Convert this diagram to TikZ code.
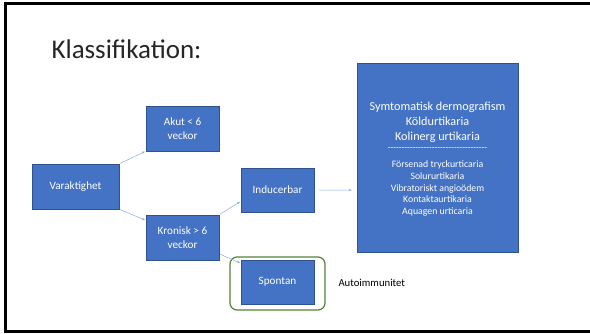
\documentclass[tikz,border=0pt]{standalone}
\usepackage{fontspec}
\setmainfont{Carlito}[Ligatures=TeXOff]
\usetikzlibrary{arrows.meta}
\definecolor{boxblue}{HTML}{4472C4}
\definecolor{boxedge}{HTML}{2F528F}
\definecolor{linkblue}{HTML}{8FAADC}
\definecolor{frameok}{HTML}{548235}
\begin{document}
\begin{tikzpicture}[x=1pt,y=-1pt,
    box/.style={draw=boxedge,fill=boxblue,text=white,align=center,inner sep=2pt,
                font=\fontsize{11.2}{13.5}\selectfont},
    link/.style={draw=linkblue,line width=0.5pt,-{Stealth[length=3pt,width=2.5pt]},
                 shorten <=1pt,shorten >=1pt}]
            \useasboundingbox (0,0) rectangle (590,333);
            \draw[line width=3pt] (590,3.5) -- (5,3.5) -- (5,331) -- (590,331);
            
            \node[anchor=base west,font=\fontsize{27}{32}\selectfont,text=black!85] (title) at (48,58) {Klassifikation:};
            
            \node[box,minimum width=87pt,minimum height=45pt] (vark) at (75.5,186.5) {Varaktighet};
            \node[box,minimum width=73pt,minimum height=45pt] (akut) at (182.5,128.5) {Akut < 6\\veckor};
            \node[box,minimum width=73pt,minimum height=45pt] (kron) at (182.5,237.5) {Kronisk > 6\\veckor};
            \node[box,minimum width=73pt,minimum height=44pt] (induc) at (277.5,190) {Inducerbar};
            \node[box,minimum width=73pt,minimum height=44pt] (spon) at (277.5,282) {Spontan};
            \draw[frameok,line width=1.2pt,rounded corners=7pt] (230,257) rectangle (325,310);
            \node[anchor=west,font=\fontsize{10.7}{12}\selectfont] (auto) at (335,283) {Autoimmunitet};
            
            \node[box,minimum width=161pt,minimum height=189pt] (big) at (437.5,157.5) {};
            \node[text=white,align=center,font=\fontsize{12.2}{15}\selectfont] (induclist) at (437.5,122) {Symtomatisk dermografism\\Köldurtikaria\\Kolinerg urtikaria};
            \node[text=white,font=\fontsize{9}{10}\selectfont] (dashes) at (437.5,149) {------------------------------------};
            \node[text=white,align=center,font=\fontsize{9.8}{11.75}\selectfont] (otherlist) at (437.5,188.5) {Försenad tryckurticaria\\Solururtikaria\\Vibratoriskt angioödem\\Kontaktaurtikaria\\Aquagen urticaria};
            
            \draw[link] (vark.north east) -- (akut.south west);
            \draw[link] (vark.south east) -- (kron.155);
            \draw[link] (kron.north east) -- (induc.197);
            \draw[link] (kron.-24) -- (spon.153);
            \draw[link,shorten <=5pt,shorten >=5pt] (induc.east) -- (big.202);
            
        \end{tikzpicture}
\end{document}
